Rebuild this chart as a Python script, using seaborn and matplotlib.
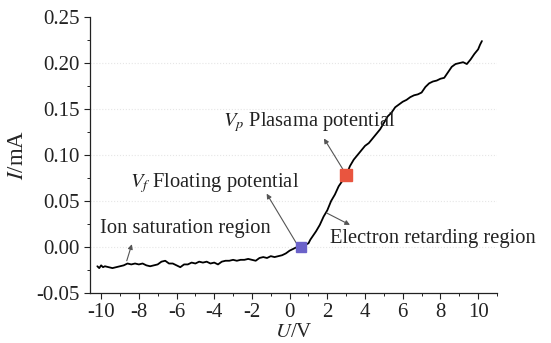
import numpy as np
import pandas as pd
import seaborn as sns
import matplotlib
matplotlib.use("Agg")
from matplotlib import pyplot as plt
from matplotlib.ticker import MultipleLocator

# probe characteristic
u_volt = [-10.2, -10.1, -10.0, -9.9, -9.8, -9.6, -9.4, -9.2, -9.0, -8.8,
          -8.6, -8.4, -8.2, -8.0, -7.8, -7.6, -7.4, -7.2, -7.0, -6.8,
          -6.6, -6.4, -6.2, -6.0, -5.8, -5.6, -5.4, -5.2, -5.0, -4.8,
          -4.6, -4.4, -4.2, -4.0, -3.8, -3.6, -3.4, -3.2, -3.0, -2.8,
          -2.6, -2.4, -2.2, -2.0, -1.8, -1.6, -1.4, -1.2, -1.0, -0.8,
          -0.6, -0.4, -0.2, 0.0, 0.2, 0.4, 0.6, 0.8, 1.0, 1.1,
          1.2, 1.4, 1.6, 1.8, 2.0, 2.2, 2.4, 2.6, 2.8, 3.0,
          3.2, 3.4, 3.6, 3.8, 4.0, 4.2, 4.4, 4.6, 4.8, 5.0,
          5.2, 5.4, 5.6, 5.8, 6.0, 6.2, 6.4, 6.6, 6.8, 7.0,
          7.2, 7.4, 7.6, 7.8, 8.0, 8.2, 8.4, 8.6, 8.8, 9.0,
          9.2, 9.4, 9.6, 9.8, 10.0, 10.1, 10.2]
i_ma = [-0.021, -0.023, -0.020, -0.022, -0.021, -0.022, -0.023, -0.022, -0.021, -0.020,
        -0.018, -0.019, -0.018, -0.019, -0.018, -0.020, -0.021, -0.020, -0.019, -0.016,
        -0.015, -0.018, -0.018, -0.020, -0.022, -0.019, -0.019, -0.017, -0.018, -0.016,
        -0.017, -0.016, -0.018, -0.017, -0.019, -0.016, -0.015, -0.015, -0.014, -0.015,
        -0.014, -0.014, -0.013, -0.014, -0.015, -0.012, -0.011, -0.012, -0.010, -0.011,
        -0.010, -0.009, -0.007, -0.004, -0.002, 0.000, 0.001, 0.002, 0.004, 0.008,
        0.011, 0.017, 0.024, 0.033, 0.040, 0.050, 0.057, 0.066, 0.072, 0.078,
        0.088, 0.095, 0.100, 0.105, 0.110, 0.113, 0.118, 0.123, 0.128, 0.135,
        0.142, 0.146, 0.152, 0.155, 0.158, 0.160, 0.163, 0.165, 0.166, 0.168,
        0.174, 0.178, 0.180, 0.181, 0.183, 0.184, 0.190, 0.196, 0.199, 0.200,
        0.201, 0.199, 0.204, 0.210, 0.215, 0.220, 0.224]

# floating and plasma potential markers
vf_point = (0.6, 0.0)
vp_point = (3.0, 0.078)

xticks = list(range(-10, 11, 2))
yticks = [-0.05, 0.00, 0.05, 0.10, 0.15, 0.20, 0.25]

sns.set_theme(style="ticks")
plt.rcParams["font.family"] = ["Liberation Serif", "DejaVu Serif"]
plt.rcParams["mathtext.fontset"] = "stix"

fig = plt.figure(figsize=(5.51, 3.43), dpi=100)
ax = fig.add_axes([0.163, 0.146, 0.739, 0.804])

# faint dotted grid like the scan
for yv in yticks[1:-1]:
    ax.axhline(yv, color="#e6e6e6", lw=0.8, ls=":", zorder=0)

df = pd.DataFrame({"U": u_volt, "I": i_ma})
sns.lineplot(data=df, x="U", y="I", sort=False, estimator=None,
             color="black", lw=1.3, ax=ax)

ax.plot(*vf_point, marker="s", ms=7, color="#6b62c9", mec="#6b62c9", zorder=5)
ax.plot(*vp_point, marker="s", ms=8, color="#e9553f", mec="#e9553f", zorder=5)

ax.set_xlim(-10.6, 11.0)
ax.set_ylim(-0.05, 0.25)
ax.set_xticks(xticks)
ax.set_yticks(yticks)
ax.set_xticklabels([str(t) for t in xticks])
ax.set_yticklabels(["%.2f" % t for t in yticks])
ax.xaxis.set_minor_locator(MultipleLocator(1))
ax.yaxis.set_minor_locator(MultipleLocator(0.025))
ax.tick_params(which="major", direction="out", length=4, width=0.8,
               labelsize=15, colors="#222222", pad=3)
ax.tick_params(which="minor", direction="out", length=2.5, width=0.7,
               colors="#222222")
sns.despine(ax=ax)
for s in ["left", "bottom"]:
    ax.spines[s].set_linewidth(0.9)
    ax.spines[s].set_color("#222222")

ax.set_xlabel(r"$U$/V", fontsize=15, labelpad=1)
ax.set_ylabel(r"$I$/mA", fontsize=16.5, labelpad=6)

arrow = dict(arrowstyle="-|>", color="#555555", lw=0.8,
             mutation_scale=7, shrinkA=0, shrinkB=0)
ax.annotate("", xy=(1.82, 0.118), xytext=(2.93, 0.081), arrowprops=arrow)
ax.annotate("", xy=(-1.22, 0.058), xytext=(0.44, 0.0013), arrowprops=arrow)
ax.annotate("", xy=(-8.37, 0.003), xytext=(-8.64, -0.015), arrowprops=arrow)
ax.annotate("", xy=(3.20, 0.024), xytext=(1.96, 0.037), arrowprops=arrow)

ax.text(-3.53, 0.1355, r"$V_p$ Plasama potential", fontsize=14.8,
        ha="left", va="center", color="#222222")
ax.text(-8.46, 0.069, r"$V_f$ Floating potential", fontsize=14.8,
        ha="left", va="center", color="#222222")
ax.text(-10.05, 0.020, "Ion saturation region", fontsize=14.8,
        ha="left", va="center", color="#222222")
ax.text(2.14, 0.009, "Electron retarding region", fontsize=14.8,
        ha="left", va="center", color="#222222")

fig.savefig("out.png", dpi=100)
